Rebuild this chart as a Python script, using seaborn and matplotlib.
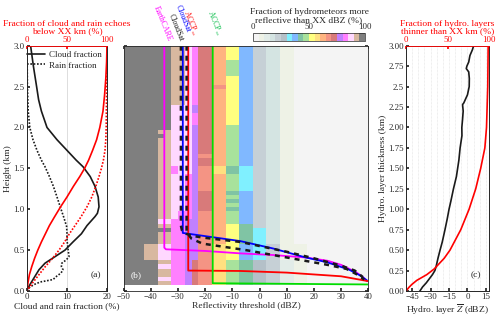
import numpy as np
import matplotlib
matplotlib.use("Agg")
import matplotlib.pyplot as plt
from matplotlib.colors import ListedColormap, BoundaryNorm
import seaborn as sns

sns.set_theme(style="ticks")
plt.rcParams['font.family'] = ['Liberation Serif', 'DejaVu Serif']
plt.rcParams['mathtext.fontset'] = 'stix'

# ---------------- panel (a) data ----------------
cloud_h = [3.0, 2.75, 2.5, 2.34, 2.2, 2.0, 1.85, 1.72, 1.6, 1.52, 1.4, 1.28, 1.15, 1.03,
           0.95, 0.91, 0.8, 0.7, 0.6, 0.5, 0.42, 0.34, 0.26, 0.18, 0.1, 0.05, 0.02]
cloud_frac = [0.9, 1.6, 2.4, 2.9, 3.6, 5.0, 7.5, 10.0, 12.3, 14.0, 15.8, 17.0, 17.8, 18.0,
              17.6, 17.0, 15.0, 13.6, 11.5, 9.5, 7.0, 4.5, 3.0, 2.0, 1.0, 0.4, 0.1]
rain_h = [3.0, 2.5, 2.2, 2.0, 1.85, 1.72, 1.6, 1.52, 1.4, 1.28, 1.15, 1.03, 0.9, 0.79, 0.7,
          0.62, 0.5, 0.42, 0.38, 0.34, 0.3, 0.26, 0.22, 0.18, 0.14, 0.11, 0.08, 0.05, 0.02]
rain_frac = [0.0, 0.1, 0.3, 0.7, 1.5, 2.5, 3.6, 4.5, 5.6, 6.6, 7.5, 8.3, 9.2, 9.9, 10.0,
             10.0, 10.3, 10.5, 9.8, 8.7, 8.6, 9.0, 8.5, 7.4, 6.5, 3.3, 1.8, 0.8, 0.0]
cum_h = [3.0, 2.8, 2.6, 2.4, 2.2, 2.0, 1.85, 1.72, 1.6, 1.5, 1.4, 1.28, 1.15, 1.03, 0.9,
         0.8, 0.7, 0.6, 0.5, 0.4, 0.3, 0.2, 0.1, 0.0]
cloud_cum = [100, 99.5, 98.5, 97, 95, 91, 87, 82, 77, 72, 66, 58, 50, 42, 34,
             28, 23, 18, 13.5, 9.5, 6, 3, 1.2, 0]
rain_cum = [100, 100, 99.8, 99.5, 99.2, 99, 98.5, 97.5, 95.5, 93, 90, 86, 81, 75, 67,
            60, 53, 47, 40, 32, 23, 15, 7, 0]

# ---------------- panel (b) data ----------------
dbz_edges = np.arange(-50, 40.01, 2.5)
height_edges = np.arange(0.075, 3.026, 0.05)
level_bounds = list(range(0, 101, 5))
level_colors = ['#f4f4f4', '#eef2e6', '#e2ece8', '#d4e4e2', '#c6d0d6', '#b4c0c8',
                '#80f0ff', '#80b8ff', '#80c4a4', '#a8e29c', '#ffff80', '#ffe080',
                '#ffb480', '#f49484', '#d87a7a', '#c080ff', '#ff80ff', '#ffd8ff',
                '#d8b8a0', '#7f7f7f']
# rows from 3.00 km (top) down to 0.10 km (row centres, 0.05 km each);
# columns from -50 dBZ, 2.5 dBZ each
# codes: 0-9 -> levels 0-9, a-j -> levels 10-19
grid_rows = [
    "jjjjjjjiihgeeccaa7744331100000000000",  # 3.00
    "jjjjjjjiihgeeccaa7744331100000000000",
    "jjjjjjjiihgeeccaa7744331100000000000",
    "jjjjjjjiihgeeccaa7744331100000000000",
    "jjjjjjjiihgeecc997744331100000000000",  # 2.80
    "jjjjjjjiihgeecc997744331100000000000",
    "jjjjjjjiihgeecc997744331100000000000",
    "jjjjjjjiihgeecc997744331100000000000",
    "jjjjjjjiihgeeccaa7744331100000000000",  # 2.60
    "jjjjjjjiihgeeccaa7744331100000000000",
    "jjjjjjjiihgeeddaa7744331100000000000",  # 2.50
    "jjjjjjjiihgeeccaa7744331100000000000",
    "jjjjjjjiihgeeccaa7744331100000000000",
    "jjjjjjjiihgeeccaa7744331100000000000",
    "jjjjjjjiihgeeccaa7744331100000000000",  # 2.30
    "jjjjjjjhhhfeeccaa7744331100000000000",  # 2.25
    "jjjjjjjhhhfeeccaa7744331100000000000",
    "jjjjjjjhhhgeeccaa7744331100000000000",
    "jjjjjjjhhhgeeccaa7744331100000000000",
    "jjjjjjjhhhgeeccaa7744331100000000000",
    "jjjjjjjhhhfeecc997744331100000000000",  # 2.00
    "jjjjjiihhhfeecc997744331100000000000",  # 1.95
    "jjjjjjihhhfeecc997744331100000000000",  # 1.90
    "jjjjjiihhhfeecc997744331100000000000",  # 1.85
    "jjjjjiihhhfeecc997744331100000000000",
    "jjjjjiihhhfeecc997744331100000000000",
    "jjjjjiihhhfeecc997744331100000000000",
    "jjjjjiihhhfddcc997744331100000000000",  # 1.65
    "jjjjjiihhhfeecc997744331100000000000",
    "jjjjjiihhhfeecc997744331100000000000",  # 1.55
    "jjjjjiighhfddbb886644331100000000000",  # 1.50
    "jjjjjiighhfddbb886644331100000000000",
    "jjjjjiihhgfddcc996644331100000000000",  # 1.40
    "jjjjjiihhgfddcc996644331100000000000",
    "jjjjjiihhgfddcc996644331100000000000",
    "jjjjjiihhgfddcc996644331100000000000",  # 1.25
    "jjjjjiihhgfeecc887744331100000000000",  # 1.20
    "jjjjjiihhgfeecc997744331100000000000",
    "jjjjjiihhgfeecc887744331100000000000",
    "jjjjjiihhgfeecc997744331100000000000",
    "jjjjjiihhgfeecc887744331100000000000",  # 1.00
    "jjjjjiihggfddcc997744331100000000000",  # 0.95
    "jjjjjiihggfddcc997744331100000000000",
    "jjjjjhhggffddcc997744331100000000000",  # 0.85
    "jjjjjiiggffddccaa8844331100000000000",  # 0.80
    "jjjjjjjggffddccaa8866331100000000000",  # 0.75
    "jjjjjiiggffddccaa8866331100000000000",
    "jjjjjiiggffddccaa8866331100000000000",
    "jjjjjiiggffddccaa8866331100000000000",  # 0.60
    "jjjiihhggffddbbaa7766441111000000000",  # 0.55
    "jjjiihhggffddbbaa7766441111000000000",
    "jjjiihhggffddbbaa7766441111000000000",
    "jjjiihhggffddbbaa7766441111000000000",  # 0.40
    "jjjjjiiggfeddbb998855442211000000000",  # 0.35
    "jjjjjhhggfeddbb998855442211000000000",
    "jjjjjiiggfeddbb998855442211000000000",
    "jjjjjiiggfeddbb998855442211000000000",
    "jjjjjhhggfeddbb998855442211000000000",
    "jjjjjiiggfeddbb998855442211000000000",  # 0.10
]

# instrument sensitivity curves (dBZ, km)
earthcare_x = [-35, -35, -34.4, -20, -7, 5, 17, 25, 30, 35.5, 38, 39.5]
earthcare_h = [3.0, 0.53, 0.51, 0.49, 0.46, 0.44, 0.41, 0.37, 0.32, 0.23, 0.17, 0.12]
cloudsat_x = [-28.2, -28.2, -7, 5, 17, 25, 33, 37, 39.5]
cloudsat_h = [3.0, 0.71, 0.61, 0.52, 0.41, 0.35, 0.26, 0.19, 0.13]
accp_red_x = [-26.2, -26.2, -7, 10, 30, 40]
accp_red_h = [3.0, 0.25, 0.245, 0.225, 0.18, 0.12]
accp_green_x = [-17.2, -17.2, 40]
accp_green_h = [3.0, 0.095, 0.08]
obs1_x = [-28.9, -28.9, -28.5, -27, -24, -20, -15, -7, 0, 10, 20, 30, 35, 38]
obs1_h = [3.0, 0.8, 0.74, 0.7, 0.67, 0.65, 0.63, 0.6, 0.55, 0.48, 0.4, 0.31, 0.25, 0.17]
obs2_x = [-26.8, -26.8, -25, -21, -15, -5, 5, 15, 25, 32, 36, 38.5]
obs2_h = [3.0, 0.72, 0.64, 0.58, 0.55, 0.5, 0.44, 0.38, 0.32, 0.27, 0.2, 0.14]

# ---------------- panel (c) data ----------------
c_black_h = [3.0, 2.95, 2.88, 2.8, 2.75, 2.72, 2.68, 2.6, 2.5, 2.4, 2.3, 2.28, 2.2, 2.1, 2.0,
             1.9, 1.75, 1.6, 1.5, 1.4, 1.25, 1.1, 1.0, 0.88, 0.75, 0.6, 0.5, 0.4, 0.3, 0.25,
             0.2, 0.15, 0.1, 0.05, 0.0]
c_black_z = [5, 4, 2, 1, -0.5, -1, 1, 1.5, 1.4, 0, -3, -4, -3.5, -4, -4.6,
             -4.5, -6, -7, -8, -9, -11.4, -13.5, -15, -16.5, -18.3, -20.5, -22.3, -24, -25.5, -26.5,
             -28.5, -31, -33.5, -36.5, -38.7]
c_red_h = [3.0, 2.5, 2.0, 1.75, 1.5, 1.25, 1.0, 0.75, 0.5, 0.4, 0.27, 0.2, 0.13, 0.08, 0.045, 0.0]
c_red_pct = [99, 98.5, 97, 95, 90, 84, 76, 66, 53, 46, 34, 25, 13, 7, 3.6, 0]

# ---------------- figure ----------------
W, H = 500, 319
fig = plt.figure(figsize=(W / 100, H / 100), dpi=100)


def box(l, r, t, b):
    return [l / W, 1 - b / H, (r - l) / W, (b - t) / H]


FS = 6.8
TS = 6.3
RED = '#ff0000'

# ---- panel a ----
axa = fig.add_axes(box(27, 107, 45.7, 291))
sns.lineplot(x=cloud_frac, y=cloud_h, sort=False, estimator=None, color='k', lw=1.2,
             ax=axa, label='Cloud fraction')
sns.lineplot(x=rain_frac, y=rain_h, sort=False, estimator=None, color='k', lw=1.2,
             ax=axa, label='Rain fraction', linestyle=(0, (1, 1)))
axa.axvline(10, color='#d8d8d8', lw=0.6, zorder=0)
axa.set_xlim(0, 20)
axa.set_ylim(0, 3)
axa.set_xticks([0, 10, 20])
axa.set_yticks(np.arange(0, 3.01, 0.5))
axa.set_yticklabels([f"{v:.1f}" for v in np.arange(0, 3.01, 0.5)])
axa.set_xlabel('Cloud and rain fraction (%)', fontsize=FS, labelpad=1)
axa.set_ylabel('Height (km)', fontsize=FS, labelpad=1)
axa.tick_params(labelsize=TS, direction='in', length=2, pad=1.5)
axa.legend(loc='upper right', frameon=False, fontsize=FS - 0.3, handlelength=2.0,
           borderaxespad=0.2, handletextpad=0.4, labelspacing=0.2)
axa.text(0.93, 0.05, '(a)', transform=axa.transAxes, ha='right', va='bottom', fontsize=FS)
axa_t = axa.twiny()
sns.lineplot(x=cloud_cum, y=cum_h, sort=False, estimator=None, color=RED, lw=1.2, ax=axa_t)
sns.lineplot(x=rain_cum, y=cum_h, sort=False, estimator=None, color=RED, lw=1.2,
             ax=axa_t, linestyle=(0, (1, 1)))
axa_t.set_xlim(0, 100)
axa_t.set_xticks([0, 50, 100])
axa_t.tick_params(axis='x', colors=RED, labelsize=TS, direction='in', length=2, pad=1)
axa_t.spines['top'].set_color(RED)
axa_t.set_xlabel('Fraction of cloud and rain echoes\nbelow XX km (%)', color=RED,
                 fontsize=FS, labelpad=2, linespacing=1.0)

# ---- panel b ----
axb = fig.add_axes(box(123.5, 368.3, 45.7, 291))
codes = '0123456789abcdefghij'
vals = np.array([[codes.index(ch) * 5 + 2.5 for ch in row] for row in grid_rows[::-1]])
cmap = ListedColormap(level_colors)
norm = BoundaryNorm(level_bounds, cmap.N)
mesh = axb.pcolormesh(dbz_edges, height_edges, vals, cmap=cmap, norm=norm, shading='flat')
lw = 1.3
sns.lineplot(x=earthcare_x, y=earthcare_h, sort=False, estimator=None, color='#ff00ff', lw=lw, ax=axb)
sns.lineplot(x=cloudsat_x, y=cloudsat_h, sort=False, estimator=None, color='#0000ff', lw=lw, ax=axb)
sns.lineplot(x=accp_red_x, y=accp_red_h, sort=False, estimator=None, color='#ff0000', lw=lw, ax=axb)
sns.lineplot(x=accp_green_x, y=accp_green_h, sort=False, estimator=None, color='#00dd00', lw=lw, ax=axb)
sns.lineplot(x=obs1_x, y=obs1_h, sort=False, estimator=None, color='k', lw=1.8,
             linestyle=(0, (2, 2)), ax=axb)
sns.lineplot(x=obs2_x, y=obs2_h, sort=False, estimator=None, color='k', lw=1.8,
             linestyle=(0, (2, 2)), ax=axb)
axb.set_xlim(-50, 40)
axb.set_ylim(0, 3)
axb.set_xticks(np.arange(-50, 41, 10))
axb.set_yticks(np.arange(0, 3.01, 0.5))
axb.set_yticklabels([])
axb.tick_params(labelsize=TS, direction='in', length=2, pad=1.5, top=True, right=True)
axb.set_xlabel('Reflectivity threshold (dBZ)', fontsize=FS, labelpad=1)
axb.text(0.03, 0.05, '(b)', transform=axb.transAxes, ha='left', va='bottom', fontsize=FS,
         color='white')
for lab, xx, col, dy in [('EarthCARE', -34.5, '#ff00ff', 0.012),
                          ('CloudSat', -30.0, 'k', 0.012),
                          ('CloudSat', -27.6, '#0000ff', 0.05),
                          ('ACCP$_{ss}$', -25.6, '#ff0000', 0.035),
                          ('ACCP$_{ss}$', -16.8, '#00bb44', 0.035)]:
    axb.text(xx, 1 + dy, lab, transform=axb.get_xaxis_transform(), rotation=-68,
             rotation_mode='anchor', ha='right', va='bottom', color=col, fontsize=5.6)

cax = fig.add_axes(box(253, 365, 32.7, 40.7))
cb = fig.colorbar(mesh, cax=cax, orientation='horizontal', ticks=[0, 50, 100])
cax.minorticks_off()
cax.xaxis.set_ticks_position('top')
cax.xaxis.set_label_position('top')
cax.tick_params(labelsize=TS, length=0, pad=1)
cb.outline.set_linewidth(0.5)
cax.set_xlabel('Fraction of hydrometeors more\nreflective than XX dBZ (%)', fontsize=FS,
               labelpad=1, linespacing=1.0)

# ---- panel c ----
axc = fig.add_axes(box(406, 489, 45.7, 291))
sns.lineplot(x=c_black_z, y=c_black_h, sort=False, estimator=None, color='k', lw=1.2, ax=axc)
axc.set_xlim(-50, 17.5)
axc.set_ylim(0, 3)
axc.set_xticks([-45, -30, -15, 0, 15])
axc.set_xticks(np.arange(-50, 17.6, 5), minor=True)
axc.grid(axis='x', which='both', color='#e0e0e0', lw=0.5, linestyle=(0, (1, 1)))
axc.set_yticks(np.arange(0, 3.01, 0.25))
axc.set_yticklabels(['0.00', '0.25', '0.50', '0.75', '1.00', '1.25', '1.50', '1.75',
                     '2.00', '2.25', '2.5', '2.75', '3.00'])
axc.tick_params(labelsize=TS, direction='in', length=2, pad=1.5)
axc.tick_params(which='minor', length=0)
axc.set_xlabel(r'Hydro. layer $\overline{Z}$ (dBZ)', fontsize=FS, labelpad=1)
axc.set_ylabel('Hydro. layer thickness (km)', fontsize=FS, labelpad=1)
axc.text(0.9, 0.05, '(c)', transform=axc.transAxes, ha='right', va='bottom', fontsize=FS)
axc_t = axc.twiny()
sns.lineplot(x=c_red_pct, y=c_red_h, sort=False, estimator=None, color=RED, lw=1.2, ax=axc_t)
axc_t.set_xlim(0, 100)
axc_t.set_xticks([0, 50, 100])
axc_t.tick_params(axis='x', colors=RED, labelsize=TS, direction='in', length=2, pad=1)
axc_t.spines['top'].set_color(RED)
axc_t.set_xlabel('Fraction of hydro. layers\nthinner than XX km (%)', color=RED,
                 fontsize=FS, labelpad=2, linespacing=1.0)

for ax in (axa, axb, axc, axa_t, axc_t):
    for s in ax.spines.values():
        s.set_linewidth(0.6)
axa_t.spines['top'].set_color(RED)
axc_t.spines['top'].set_color(RED)

fig.savefig('out.png', dpi=100)
